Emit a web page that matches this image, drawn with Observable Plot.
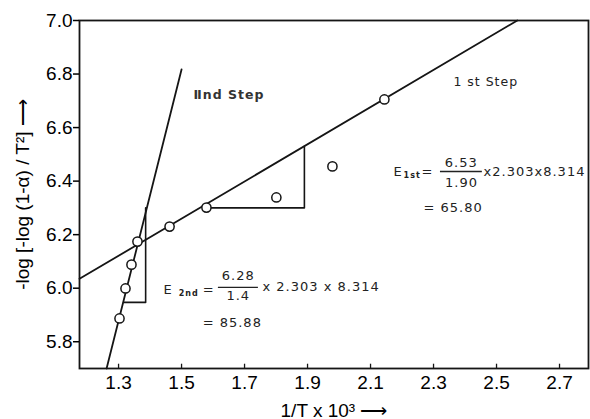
<!DOCTYPE html>
<html><head><meta charset="utf-8">
<script src="https://cdn.jsdelivr.net/npm/d3@7"></script>
<script src="https://cdn.jsdelivr.net/npm/@observablehq/plot@0.6"></script>
<style>body{margin:0;background:#fff}</style>
</head><body><div id="chart"></div>
<script>
// Data points: 1/T x 10^3 vs -log[-log(1-α)/T²]
const pointX = [1.303, 1.322, 1.341, 1.360, 1.462, 1.579, 1.801, 1.979, 2.144];
const pointY = [5.887, 5.999, 6.088, 6.174, 6.230, 6.301, 6.339, 6.455, 6.705];
// Fitted lines
const step1X = [1.176, 2.566];
const step1Y = [6.035, 7.0];
const step2X = [1.262, 1.500];
const step2Y = [5.70, 6.817];
// Slope triangles
const tri1X = [1.579, 1.890, 1.890];
const tri1Y = [6.30, 6.30, 6.53];
const tri2X = [1.316, 1.386, 1.386];
const tri2Y = [5.947, 5.947, 6.30];
// Ticks
const xTicks = [1.3, 1.5, 1.7, 1.9, 2.1, 2.3, 2.5, 2.7];
const yTicks = [5.8, 6.0, 6.2, 6.4, 6.6, 6.8, 7.0];
// Annotation texts
const step2Label = ["Ⅱnd Step"];
const step2LabelX = [1.538];
const step2LabelY = [6.720];
const step1Label = ["1 st Step"];
const step1LabelX = [2.363];
const step1LabelY = [6.772];
const eqText = ["E", "=", "x2.303x8.314", "= 65.80", "E", "=", "x 2.303 x 8.314", "= 85.88"];
const eqX = [2.173, 2.262, 2.459, 2.268, 1.443, 1.567, 1.757, 1.567];
const eqY = [6.436, 6.436, 6.436, 6.301, 5.995, 5.995, 6.006, 5.872];
const subText = ["1st", "2nd"];
const subX = [2.205, 1.491];
const subY = [6.423, 5.982];
const numText = ["6.53", "1.90", "6.28", "1.4"];
const numX = [2.388, 2.389, 1.680, 1.680];
const numY = [6.470, 6.395, 6.047, 5.973];
const barX1 = [2.322, 1.617];
const barX2 = [2.455, 1.744];
const barY = [6.436, 6.003];

const pts = pointX.map((x, i) => ({x, y: pointY[i]}));
const l1 = step1X.map((x, i) => ({x, y: step1Y[i]}));
const l2 = step2X.map((x, i) => ({x, y: step2Y[i]}));
const t1 = tri1X.map((x, i) => ({x, y: tri1Y[i]}));
const t2 = tri2X.map((x, i) => ({x, y: tri2Y[i]}));
const ann2 = step2Label.map((t, i) => ({t, x: step2LabelX[i], y: step2LabelY[i]}));
const ann1 = step1Label.map((t, i) => ({t, x: step1LabelX[i], y: step1LabelY[i]}));
const eqs = eqText.map((t, i) => ({t, x: eqX[i], y: eqY[i]}));
const subs = subText.map((t, i) => ({t, x: subX[i], y: subY[i]}));
const nums = numText.map((t, i) => ({t, x: numX[i], y: numY[i]}));
const bars = barY.map((y, i) => ({y, x1: barX1[i], x2: barX2[i]}));

const annFont = "DejaVu Sans, sans-serif";
const ink = "#151515";

const chart = Plot.plot({
  width: 590, height: 419,
  marginLeft: 79, marginRight: 2, marginTop: 20, marginBottom: 51,
  style: {fontFamily: "Liberation Sans, Arial, sans-serif", fontSize: "19px", color: "#000", background: "#fff"},
  x: {domain: [1.176, 2.792]},
  y: {domain: [5.70, 7.0]},
  marks: [
    Plot.frame({stroke: ink, strokeWidth: 1.8}),
    Plot.axisY({ticks: yTicks, tickFormat: d3.format(".1f"), tickSize: 6, tickPadding: 1, strokeWidth: 1.5,
      fontSize: 19, label: "-log [-log (1-α) / T²] ⟶", labelAnchor: "center", labelOffset: 64, labelArrow: "none"}),
    Plot.axisX({ticks: xTicks, tickFormat: d3.format(".1f"), tickSize: 0, tickPadding: 7,
      fontSize: 19, label: null}),
    Plot.axisX({ticks: [], tickSize: 0, label: "1/T x 10³ ⟶", labelAnchor: "center", labelOffset: 48,
      labelArrow: "none", fontSize: 19, dx: 7}),
    Plot.ruleX(xTicks, {x: d => d, y1: 5.70, y2: 5.716, stroke: ink, strokeWidth: 1.3}),
    Plot.line(l1, {x: "x", y: "y", stroke: ink, strokeWidth: 1.8}),
    Plot.line(l2, {x: "x", y: "y", stroke: ink, strokeWidth: 1.8}),
    Plot.line(t1, {x: "x", y: "y", stroke: ink, strokeWidth: 1.6}),
    Plot.line(t2, {x: "x", y: "y", stroke: ink, strokeWidth: 1.6}),
    Plot.dot(pts, {x: "x", y: "y", r: 4.6, fill: "white", stroke: ink, strokeWidth: 1.5}),
    Plot.text(ann2, {x: "x", y: "y", text: "t", textAnchor: "start", fontSize: 12.5, fontWeight: "bold", fontFamily: annFont, fill: "#333"}),
    Plot.text(ann1, {x: "x", y: "y", text: "t", textAnchor: "start", fontSize: 12.5, fontFamily: annFont, fill: "#222"}),
    Plot.text(eqs, {x: "x", y: "y", text: "t", textAnchor: "start", fontSize: 13, fontFamily: annFont, fill: "#222"}),
    Plot.text(subs, {x: "x", y: "y", text: "t", textAnchor: "start", fontSize: 8, fontWeight: "bold", fontFamily: annFont, fill: "#222"}),
    Plot.text(nums, {x: "x", y: "y", text: "t", textAnchor: "middle", fontSize: 13, fontFamily: annFont, fill: "#222"}),
    Plot.ruleY(bars, {y: "y", x1: "x1", x2: "x2", stroke: "#222", strokeWidth: 1.3})
  ]
});
document.getElementById("chart").appendChild(chart);
chart.querySelectorAll('g[aria-label="text"] text').forEach(t => t.style.letterSpacing = "1px");
</script>
</body></html>
